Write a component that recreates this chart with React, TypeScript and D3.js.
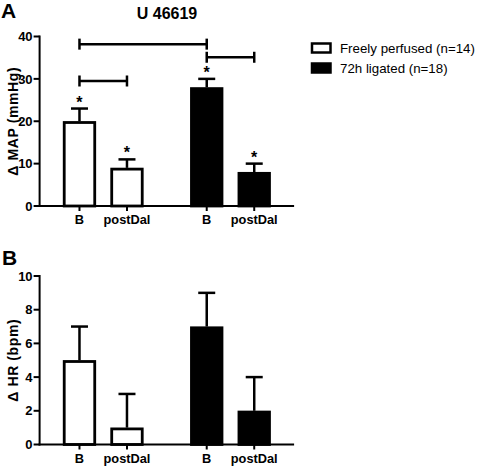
import React from "react";
import * as d3 from "d3";

const conditions = ["B", "postDal"];
const groups = ["Freely perfused (n=14)", "72h ligated (n=18)"];
const groupFill = ["#ffffff", "#000000"];

// Panel A: Δ MAP (mmHg)
const mapFreely = [20, 9];
const mapLigated = [28, 8];
const mapSemFreely = [3, 2];
const mapSemLigated = [2, 2];
const mapStarFreely = [true, true];
const mapStarLigated = [true, true];
const mapTicks = [0, 10, 20, 30, 40];

// Panel B: Δ HR (bpm)
const hrFreely = [5, 1];
const hrLigated = [7, 2];
const hrSemFreely = [2, 2];
const hrSemLigated = [2, 2];
const hrTicks = [0, 2, 4, 6, 8, 10];

// significance brackets in panel A: [group, condition] -> [group, condition] at level y
const bracketFrom = [[0, 0], [0, 0], [1, 0]];
const bracketTo = [[1, 0], [0, 1], [1, 1]];
const bracketLevel = [38.2, 29.5, 35.1];

const FONT = "'Liberation Sans', Arial, sans-serif";

const xOuter = d3.scaleBand<string>().domain(groups).range([39.6, 294.1]).padding(0);
const xInner = d3
  .scaleBand<string>()
  .domain(conditions)
  .range([0, xOuter.bandwidth()])
  .paddingInner(0.305)
  .paddingOuter(0.492);

const barX = (g: number, c: number) => (xOuter(groups[g]) as number) + (xInner(conditions[c]) as number);
const barCx = (g: number, c: number) => barX(g, c) + xInner.bandwidth() / 2;

type PanelProps = {
  y: d3.ScaleLinear<number, number>;
  ticks: number[];
  means: number[][];
  sems: number[][];
  stars?: boolean[][];
  label: string;
};

function Panel({ y, ticks, means, sems, stars, label }: PanelProps) {
  const [y0, y1] = y.range();
  const x0 = xOuter.range()[0];
  const x1 = xOuter.range()[1];
  const bw = xInner.bandwidth();
  const capHalf = 8.5;
  return (
    <g>
      {means.map((row, g) =>
        row.map((v, c) => {
          const top = y(v);
          const capY = y(v + sems[g][c]);
          const cx = barCx(g, c);
          return (
            <g key={`${g}-${c}`}>
              <line x1={cx} x2={cx} y1={top} y2={capY} stroke="#000" strokeWidth={2.5} />
              <line x1={cx - capHalf} x2={cx + capHalf} y1={capY} y2={capY} stroke="#000" strokeWidth={2.5} />
              <rect
                x={barX(g, c) + 1.25}
                y={top + 1.25}
                width={bw - 2.5}
                height={y(0) - top - 1.25}
                fill={groupFill[g]}
                stroke="#000"
                strokeWidth={2.8}
              />
              {stars && stars[g][c] ? (
                <text x={cx} y={capY - 1} textAnchor="middle" fontFamily={FONT} fontWeight="bold" fontSize={16}>
                  *
                </text>
              ) : null}
            </g>
          );
        })
      )}
      <line x1={x0} x2={x0} y1={y0 + 1} y2={y1 - 1} stroke="#000" strokeWidth={2} />
      {ticks.map((t) => (
        <g key={t}>
          <line x1={x0 - 6} x2={x0} y1={y(t)} y2={y(t)} stroke="#000" strokeWidth={2} />
          <text
            x={x0 - 7}
            y={y(t)}
            dy="0.36em"
            textAnchor="end"
            fontFamily={FONT}
            fontWeight="bold"
            fontSize={13}
          >
            {t}
          </text>
        </g>
      ))}
      <text
        transform={`translate(17.5,${(y0 + y1) / 2}) rotate(-90)`}
        textAnchor="middle"
        fontFamily={FONT}
        fontWeight="bold"
        fontSize={14}
        letterSpacing={0.6}
      >
        {label}
      </text>
      <line x1={x0 - 1} x2={x1} y1={y0} y2={y0} stroke="#000" strokeWidth={2} />
      {groups.map((gName, g) =>
        conditions.map((cName, c) => (
          <g key={`xt-${g}-${c}`}>
            <line x1={barCx(g, c)} x2={barCx(g, c)} y1={y0} y2={y0 + 5} stroke="#000" strokeWidth={2} />
            <text
              x={barCx(g, c)}
              y={y0 + 18}
              textAnchor="middle"
              fontFamily={FONT}
              fontWeight="bold"
              fontSize={12.8}
            >
              {cName}
            </text>
          </g>
        ))
      )}
    </g>
  );
}

export default function App() {
  const yA = d3.scaleLinear().domain([0, 40]).range([206, 36.5]);
  const yB = d3.scaleLinear().domain([0, 10]).range([444.5, 276]);
  return (
    <svg
      width={480}
      height={466}
      style={{ position: "absolute", left: 0, top: 0, background: "#fff" }}
    >
      <rect width={480} height={466} fill="#fff" />
      <text x={1} y={18} fontFamily={FONT} fontWeight="bold" fontSize={21}>
        A
      </text>
      <text x={2} y={265} fontFamily={FONT} fontWeight="bold" fontSize={21}>
        B
      </text>
      <text x={167} y={19} textAnchor="middle" fontFamily={FONT} fontWeight="bold" fontSize={16}>
        U 46619
      </text>
      <Panel
        y={yA}
        ticks={mapTicks}
        means={[mapFreely, mapLigated]}
        sems={[mapSemFreely, mapSemLigated]}
        stars={[mapStarFreely, mapStarLigated]}
        label="Δ MAP (mmHg)"
      />
      <Panel
        y={yB}
        ticks={hrTicks}
        means={[hrFreely, hrLigated]}
        sems={[hrSemFreely, hrSemLigated]}
        label="Δ HR (bpm)"
      />
      {bracketLevel.map((lv, i) => {
        const xa = barCx(bracketFrom[i][0], bracketFrom[i][1]);
        const xb = barCx(bracketTo[i][0], bracketTo[i][1]);
        const yy = yA(lv);
        return (
          <g key={`br-${i}`} stroke="#000" strokeWidth={2.5}>
            <line x1={xa} x2={xb} y1={yy} y2={yy} />
            <line x1={xa} x2={xa} y1={yy - 5.5} y2={yy + 5.5} />
            <line x1={xb} x2={xb} y1={yy - 5.5} y2={yy + 5.5} />
          </g>
        );
      })}
      {groups.map((gName, g) => (
        <g key={`lg-${g}`} transform={`translate(0,${g * 20})`}>
          <rect x={312} y={43.5} width={18.5} height={9} fill={groupFill[g]} stroke="#000" strokeWidth={2.5} />
          <text x={340} y={48} dy="0.36em" fontFamily={FONT} fontSize={13.3}>
            {gName}
          </text>
        </g>
      ))}
    </svg>
  );
}
